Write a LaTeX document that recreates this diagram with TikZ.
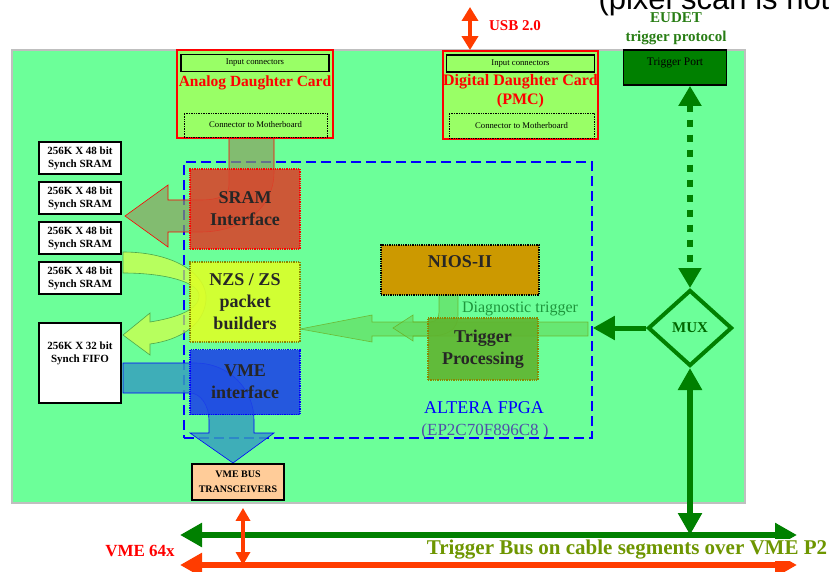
\documentclass[tikz,border=0pt]{standalone}
\usepackage{fontspec}
\setmainfont{Liberation Serif}
\setsansfont{Liberation Sans}
\usepackage{tikz}
\usetikzlibrary{shapes.geometric}
\usetikzlibrary{calc}
\usetikzlibrary{arrows.meta}
\definecolor{fondcarte}{RGB}{108,255,153}
\definecolor{fondfille}{RGB}{153,255,102}
\definecolor{rougeusb}{RGB}{255,60,0}
\definecolor{vertfonce}{RGB}{0,128,0}
\definecolor{vertolive}{RGB}{110,150,0}
\definecolor{verteudet}{RGB}{40,125,20}
\definecolor{vertdiag}{RGB}{30,150,60}
\definecolor{briquesram}{RGB}{215,70,45}
\definecolor{jaunenzs}{RGB}{220,255,40}
\definecolor{jauneclair}{RGB}{215,255,70}
\definecolor{bleuvme}{RGB}{30,70,230}
\definecolor{ocrenios}{RGB}{204,153,0}
\definecolor{verttrig}{RGB}{96,180,48}
\definecolor{vertclair}{RGB}{100,215,90}
\definecolor{peche}{RGB}{255,204,153}
\definecolor{sarcelle}{RGB}{55,160,190}
\definecolor{kaki}{RGB}{140,160,95}
\definecolor{fpgagris}{RGB}{80,80,170}
\newcommand{\Taille}[2]{\fontsize{#1}{#2}\selectfont}
\newcommand{\Memoire}[3]{\node[memoire] (#1) at (#2) {256K X #3 bit\\Synch SRAM}}

\begin{document}
\begin{tikzpicture}[x=1pt,y=-1pt,
	bloc/.style={draw, densely dotted, line width=1.3pt, minimum width=110pt, align=center,
		font=\Taille{18}{22}\bfseries, text=black!85, fill opacity=0.9, text opacity=1},
	memoire/.style={draw=black, fill=white, line width=1.8pt, minimum width=82pt,
		minimum height=32pt, align=center, inner sep=1pt, font=\Taille{11}{13}\bfseries},
	carte/.style={draw=red, line width=1.8pt, fill=fondfille},
	entree/.style={draw=black, line width=1.8pt, fill=fondfille, inner sep=0pt, font=\Taille{8.7}{10}},
	connecteur/.style={draw=black, densely dotted, line width=0.7pt, inner sep=0pt, font=\Taille{8.7}{10}},
	titre/.style={text=red, align=center, font=\Taille{15.5}{19}\bfseries},
	forme/.style={fill opacity=0.7, line width=0.6pt},
	grossefleche/.style={line width=6.5pt, >={Triangle[length=22pt,width=23pt]}, <->}]
\useasboundingbox (0,0) rectangle (830,572);

%Carte mere
\filldraw[fill=fondcarte, draw=black!25, line width=1.5pt] (12,50) rectangle (745,503);

%FPGA
\node[draw=blue, line width=1.6pt, dash pattern=on 10pt off 5pt, minimum width=408pt, minimum height=276pt] (fpga) at (388,300) {};

%Fleches de donnees
\filldraw[forme, fill=kaki, draw=red] (125,216) -- (168,185) -- (168,200) -- (200,200)
	.. controls (220,200) and (229,195) .. (229,185) -- (229,138) -- (274,138) -- (274,172)
	.. controls (274,210) and (240,232) .. (200,232) -- (168,232) -- (168,247) -- cycle;
\filldraw[forme, fill=jauneclair, draw=green!50!black!70] (123,252) .. controls (175,252) and (208,275) .. (206,300)
	.. controls (204,325) and (180,340) .. (150,344) -- (150,355) -- (123,335) -- (150,313) -- (150,322)
	.. controls (175,318) and (200,310) .. (199,295) .. controls (198,282) and (165,273) .. (123,273) -- cycle;
\filldraw[forme, fill=sarcelle, fill opacity=0.85, draw=blue] (123,363) -- (195,363)
	.. controls (230,363) and (254,390) .. (254,420) -- (254,433) -- (274,433) -- (233,463) -- (190,433)
	-- (209,433) -- (209,420) .. controls (209,405) and (200,393) .. (190,393) -- (123,393) -- cycle;
\filldraw[forme, fill=vertclair, fill opacity=0.6, draw=vertolive, draw opacity=0.6] (588,322) -- (372,322) -- (372,315)
	-- (300,329) -- (372,342) -- (372,336) -- (588,336) -- cycle;
\filldraw[forme, fill=vertclair, fill opacity=0.6, draw=vertolive, draw opacity=0.6] (393,328) -- (413,315) -- (413,322)
	-- (430,322) .. controls (436,322) and (439,318) .. (439,312) -- (439,295) -- (458,295) -- (458,315)
	.. controls (458,330) and (447,336) .. (430,336) -- (413,336) -- (413,341) -- cycle;

%Blocs du FPGA
\node[bloc, fill=briquesram, draw=red, minimum height=80pt] (sramIf) at (245,209) {SRAM\\Interface};
\node[bloc, fill=jaunenzs, draw=olive, minimum height=80pt] (nzs) at (245,302) {NZS / ZS\\packet\\builders};
\node[bloc, fill=bleuvme, draw=blue, minimum height=65pt] (vmeIf) at (245,382) {VME\\interface};
\node[bloc, fill=ocrenios, fill opacity=1, draw=black, minimum width=158pt, minimum height=50pt, text depth=16pt] (nios) at (460,270) {NIOS-II};
\node[bloc, fill=verttrig, draw=olive, minimum height=62pt] (trig) at (483,349) {Trigger\\Processing};
\node[text=vertdiag, font=\Taille{16}{18}] (diag) at (520,309) {Diagnostic trigger};
\node[text=blue, font=\Taille{18}{20}] (fpgaNom) at (484,408) {ALTERA FPGA};
\node[text=fpgagris, font=\Taille{17}{20}] (fpgaRef) at (485,431) {(EP2C70F896C8 )};

%Memoires
\Memoire{sramA}{80,158}{48};
\Memoire{sramB}{80,198}{48};
\Memoire{sramC}{80,238}{48};
\Memoire{sramD}{80,278}{48};
\node[memoire, minimum height=80pt] (fifo) at (80,363) {};
\node[align=center, font=\Taille{11}{13}\bfseries] (fifoNom) at (80,353) {256K X 32 bit\\Synch FIFO};

%Cartes filles
\node[carte, minimum width=156pt, minimum height=88pt] (anaCarte) at (255,94) {};
\node[entree, minimum width=148pt, minimum height=17pt] (anaEntree) at (255,63) {Input connectors};
\node[titre] (anaTitre) at (255,83) {Analog Daughter Card};
\node[connecteur, minimum width=143pt, minimum height=24pt] (anaConn) at (255.5,125) {Connector to Motherboard};

\node[carte, minimum width=155pt, minimum height=88pt] (digCarte) at (520.5,95) {};
\node[entree, minimum width=148pt, minimum height=17pt] (digEntree) at (520.5,63.5) {Input connectors};
\node[titre, font=\Taille{16}{19}\bfseries] (digTitre) at (520.5,91) {Digital Daughter Card\\(PMC)};
\node[connecteur, minimum width=145pt, minimum height=25pt] (digConn) at (521.5,125.5) {Connector to Motherboard};

%USB
\coordinate (usbH) at (470,7);
\draw[rougeusb, line width=4pt, >={Triangle[length=14pt,width=16pt]}, <->] (usbH) -- (usbH |- digCarte.north);
\node[text=red, font=\Taille{15}{17}\bfseries] (usbNom) at (515,26) {USB 2.0};

%Declenchement
\node[text=verteudet, align=center, font=\Taille{15}{19}\bfseries] (eudet) at (676,29) {EUDET\\trigger protocol};
\node[draw=black, fill=vertfonce, line width=1.8pt, minimum width=103pt, minimum height=35pt,
	font=\Taille{11.5}{13}, text depth=12pt] (trigPort) at (675,67.5) {Trigger Port};
\node[diamond, draw=vertfonce, line width=4pt, minimum width=84pt, minimum height=76pt, inner sep=0pt,
	text=vertfonce!80!black, font=\Taille{15}{17}\bfseries] (mux) at (690,328) {MUX};
\draw[vertfonce, line width=6pt, dash pattern=on 7pt off 8pt, >={Triangle[length=20pt,width=22pt]}, <->]
	(trigPort.south -| mux.north) -- (mux.north);
\draw[vertfonce, line width=5pt, -{Triangle[length=22pt,width=23pt]}] (mux.west) -- (mux.west -| fpga.east);

%Bus VME
\coordinate (busG-o) at (180,535);
\coordinate (busG-e) at (797,535);
\coordinate (busR-o) at (180,565);
\coordinate (busR-e) at (797,565);
\node[draw=black, fill=peche, line width=1.8pt, minimum width=92pt, minimum height=36pt, align=center,
	inner sep=1pt, font=\Taille{10}{15}\bfseries] (trans) at (238,482) {VME BUS\\TRANSCEIVERS};
\draw[grossefleche, vertfonce] (mux.south) -- (mux.south |- busG-o);
\draw[grossefleche, vertfonce] (busG-o) -- (busG-e);
\draw[grossefleche, rougeusb] (busR-o) -- (busR-e);
\coordinate (transB) at ([xshift=5pt,yshift=-7pt]trans.south);
\draw[rougeusb, line width=3.5pt, >={Triangle[length=13pt,width=14pt]}, <->] (transB) -- (transB |- busR-o);
\node[text=red, font=\Taille{17}{20}\bfseries] (vme64) at (140,551) {VME 64x};
\node[text=vertolive, fill=white, inner sep=1pt, font=\Taille{21}{23}\bfseries] (trigBus) at (627,550) {Trigger Bus on cable segments over VME P2};

%Texte coupe
\node[anchor=base west, font=\sffamily\Taille{31}{34}] (pixel) at (595,10) {(pixel scan is not};

\end{tikzpicture}
\end{document}
